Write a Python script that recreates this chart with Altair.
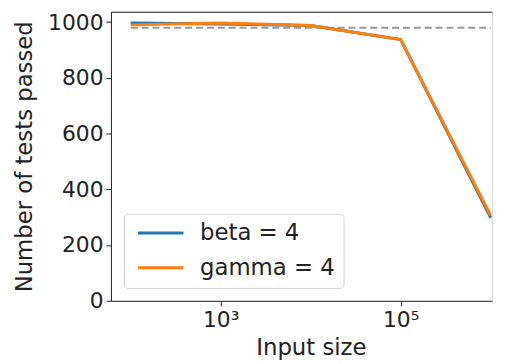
import altair as alt
import pandas as pd

sizes = [100, 1000, 10000, 100000, 1000000]
beta_vals = [997, 993, 988, 937, 298]
gamma_vals = [990, 997, 988, 937, 306]
series_names = ["beta = 4", "gamma = 4"]
ref_x = [100, 1000000]
ref_y = [980, 980]

rows = []
for name, vals in zip(series_names, [beta_vals, gamma_vals]):
    for i, (s, v) in enumerate(zip(sizes, vals)):
        rows.append({"size": s, "passed": v, "series": name, "order": i})
df = pd.DataFrame(rows)
ref = pd.DataFrame({"size": ref_x, "passed": ref_y})

FONT = "DejaVu Sans"
xscale = alt.Scale(type="log", domain=[10 ** 1.78, 10 ** 6.015], nice=False)
yscale = alt.Scale(domain=[0, 1037], nice=False)

lines = alt.Chart(df).mark_line(strokeWidth=3).encode(
    x=alt.X("size:Q", scale=xscale, title="Input size",
            axis=alt.Axis(values=[1000, 100000], grid=False,
                          labelExpr="datum.value == 1000 ? '10³' : '10⁵'",
                          labelFontSize=22, titleFontSize=23, labelPadding=4,
                          tickSize=5, titlePadding=6, titleX=202, domainColor="#222",
                          tickColor="#222", labelColor="#222", titleColor="#222",
                          titleFontWeight="normal", labelFont=FONT, titleFont=FONT)),
    y=alt.Y("passed:Q", scale=yscale, title="Number of tests passed",
            axis=alt.Axis(values=[0, 200, 400, 600, 800, 1000], grid=False, format="d",
                          labelFontSize=22, titleFontSize=23, labelPadding=3,
                          tickSize=5, titlePadding=11, domainColor="#222",
                          tickColor="#222", labelColor="#222", titleColor="#222",
                          titleFontWeight="normal", labelFont=FONT, titleFont=FONT)),
    color=alt.Color("series:N",
                    scale=alt.Scale(domain=series_names, range=["#1f77b4", "#ff7f0e"]),
                    legend=alt.Legend(title=None, orient="bottom-left", offset=13,
                                      symbolType="M-1,0H8", symbolSize=104,
                                      symbolStrokeWidth=3, labelFontSize=23,
                                      labelFont=FONT, labelColor="#222",
                                      labelOffset=46, fillColor="white",
                                      strokeColor="#d0d0d0", cornerRadius=4,
                                      padding=8, rowPadding=11)),
    order="order:Q",
)

dashed = alt.Chart(ref).mark_line(strokeWidth=2, strokeDash=[7, 4], color="#999999").encode(
    x=alt.X("size:Q", scale=xscale,
            axis=alt.Axis(orient="top", labels=False, ticks=False, title=None,
                          grid=False, domainColor="#222")),
    y=alt.Y("passed:Q", scale=yscale),
)

chart = alt.layer(dashed, lines).resolve_axis(x="independent").properties(
    width=385, height=292,
    padding={"left": 6, "top": 1, "right": 0, "bottom": 0},
).configure_view(stroke=None).configure(font=FONT)

chart.save("out.html", embed_options={"renderer": "svg", "actions": False})
